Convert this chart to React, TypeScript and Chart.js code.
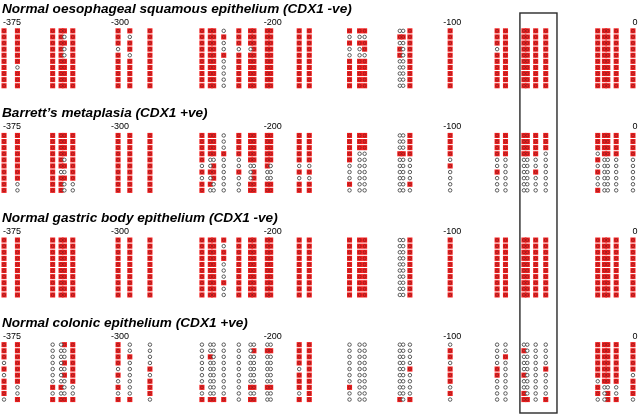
import { useEffect, useRef } from 'react';
import { Chart, registerables } from 'chart.js';
Chart.register(...registerables);

// CpG positions (bp relative to transcription start), left to right
const CPG_BP = [
  -375, -367, -346, -341, -339, -334, -307, -300, -288, -257, -252, -250, -244,
  -235, -228, -226, -218, -216, -199, -193, -169, -163, -160, -139, -137, -133,
  -109, -81, -76, -65, -63, -58, -52, -21, -17, -15, -10, 0,
];

const PANEL_TITLES = [
  'Normal oesophageal squamous epithelium (CDX1 -ve)',
  'Barrett\u2019s metaplasia (CDX1 +ve)',
  'Normal gastric body epithelium (CDX1 -ve)',
  'Normal colonic epithelium (CDX1 +ve)',
];

const TICK_LABELS = ['-375', '-300', '-200', '-100', '0'];
const TICK_CPG_INDEX = [0, 6, 17, 26, 37];

// highlighted region (bp)
const HIGHLIGHT_REGION = [-67.4, -45.3];

// Methylation per CpG column: 10 clones top -> bottom, '1' methylated, '0' unmethylated
const OESOPHAGEAL = [
  '1111111111', '1111110111', '1111111111', '1111111111', '1010011111', '1111111111',
  '1110111111', '1011011111', '1111111111', '1111111111', '1111111111', '1111111111',
  '0100100000', '1110111111', '1110111111', '1111111111', '1111111111', '1111111111',
  '1111111111', '1111111111', '1010011111', '1010011111', '1011011111', '0101100000',
  '0100000000', '1111111111', '1111111111', '1110111111', '1111111111', '1111111111',
  '1111111111', '1111111111', '1111111111', '1111111111', '1111111111', '1111111111',
  '1111111111', '1111111111',
];

const BARRETTS = [
  '1111111111', '1111111100', '1111111111', '1111110111', '1111010100', '1111111100',
  '1111111111', '1111111111', '1111111111', '1111101011', '1111001010', '1111011100',
  '0001000000', '1111001000', '1111100011', '1111101111', '1111110011', '1111100011',
  '1111101011', '1111101011', '1111100010', '1110000000', '1110000000', '0001000000',
  '0001000000', '1111000010', '1111010000', '1111001000', '1111000000', '1111000000',
  '1111000000', '1111001000', '1110000000', '1110101001', '1111000000', '1111000000',
  '1111000000', '1111000000',
];

const GASTRIC = [
  '1111111111', '1111111111', '1111111111', '1111111111', '1111111111', '1111111111',
  '1111111111', '1111111111', '1111111111', '1111111111', '1111111111', '1111111111',
  '1011000100', '1111111111', '1111111111', '1111111111', '1111111111', '1111111111',
  '1111111111', '1111111111', '1111111111', '1111111111', '1111111111', '0000000000',
  '0000000000', '1111111111', '1111111111', '1111111111', '1111111111', '1111111111',
  '1111111111', '1111111111', '1111111111', '1111111111', '1111111111', '1111111111',
  '1111111111', '1111111111',
];

const COLONIC = [
  '1110101110', '1111111001', '0000000101', '0000000101', '1001010001', '1111111001',
  '1111010101', '0010000001', '0000101110', '0000000101', '0010000001', '0000000001',
  '0000000001', '0000000000', '0000000101', '0100000101', '0100000100', '0100000100',
  '1111011101', '1111111111', '0000000100', '0000000000', '0000000000', '0000000001',
  '0000000000', '0000100001', '0110111010', '0000110000', '0010000000', '0100010011',
  '0000000001', '0000000000', '0000100001', '1111110110', '1111111000', '1111111011',
  '1111111001', '1111101110',
];

const PANELS = [OESOPHAGEAL, BARRETTS, GASTRIC, COLONIC];

// layout (pixels on the row axis)
const W = 640;
const H = 415;
const PANEL_TOP = [27.8, 132.4, 237.0, 341.6];
const ROW_PITCH = 6.1;
const BOX_TOP = 13;
const BOX_BOTTOM = 413;
const X_MIN = -377.4;
const X_MAX = 4.2;

const FONT_FAMILY = '"Liberation Sans", Arial, Helvetica, sans-serif';

export default function App() {
  const ref = useRef<HTMLCanvasElement>(null);

  useEffect(() => {
    document.body.style.margin = '0';
    const meth: { x: number; y: number }[] = [];
    const unmeth: { x: number; y: number }[] = [];
    PANELS.forEach((panel, p) => {
      panel.forEach((col, i) => {
        for (let r = 0; r < col.length; r++) {
          const pt = { x: CPG_BP[i], y: PANEL_TOP[p] + (r + 0.5) * ROW_PITCH };
          if (col[r] === '1') meth.push(pt);
          else unmeth.push(pt);
        }
      });
    });

    const annotations = {
      id: 'annotations',
      afterDatasetsDraw(chart: any) {
        const { ctx, scales } = chart;
        const xs = scales.x;
        const ys = scales.y;
        ctx.save();
        // highlight box
        const bx0 = xs.getPixelForValue(HIGHLIGHT_REGION[0]);
        const bx1 = xs.getPixelForValue(HIGHLIGHT_REGION[1]);
        const by0 = ys.getPixelForValue(BOX_TOP);
        const by1 = ys.getPixelForValue(BOX_BOTTOM);
        ctx.strokeStyle = '#2a2a2a';
        ctx.lineWidth = 1.4;
        ctx.strokeRect(bx0, by0, bx1 - bx0, by1 - by0);

        ctx.fillStyle = '#000';
        ctx.textBaseline = 'alphabetic';
        PANEL_TITLES.forEach((t, p) => {
          const top = ys.getPixelForValue(PANEL_TOP[p]);
          ctx.font = `italic bold 13.6px ${FONT_FAMILY}`;
          ctx.textAlign = 'left';
          ctx.fillText(t, 2, top - 15);
          ctx.font = `9px ${FONT_FAMILY}`;
          TICK_LABELS.forEach((lab, k) => {
            const px = xs.getPixelForValue(CPG_BP[TICK_CPG_INDEX[k]]);
            if (k === 0) {
              ctx.textAlign = 'left';
              ctx.fillText(lab, px - 1, top - 3);
            } else {
              ctx.textAlign = 'center';
              ctx.fillText(lab, px + 2, top - 3);
            }
          });
        });
        ctx.restore();
      },
    };

    const chart = new Chart(ref.current!, {
      type: 'scatter',
      data: {
        datasets: [
          {
            label: 'Unmethylated',
            data: unmeth,
            pointStyle: 'circle',
            pointRadius: 1.75,
            backgroundColor: '#ffffff',
            borderColor: '#4a4a4a',
            borderWidth: 0.9,
            order: 0,
          },
          {
            label: 'Methylated CpG',
            data: meth,
            pointStyle: 'circle',
            pointRadius: 1.5,
            backgroundColor: 'rgba(0,0,0,0)',
            borderColor: 'rgba(90,30,30,0.7)',
            borderWidth: 0.7,
            order: 1,
          },
          {
            label: 'Methylated',
            data: meth,
            pointStyle: 'rect',
            pointRadius: 3.6,
            backgroundColor: '#f41e1e',
            borderWidth: 0,
            order: 2,
          },
        ],
      },
      options: {
        animation: false,
        responsive: false,
        devicePixelRatio: 1,
        events: [],
        layout: { padding: 0, autoPadding: false },
        scales: {
          x: { type: 'linear', min: X_MIN, max: X_MAX, display: false },
          y: { type: 'linear', min: 0, max: H, reverse: true, display: false },
        },
        plugins: {
          legend: { display: false },
          tooltip: { enabled: false },
          title: { display: false },
        },
      },
      plugins: [annotations],
    });
    return () => chart.destroy();
  }, []);

  return (
    <div style={{ width: W, height: H, background: '#fff' }}>
      <canvas ref={ref} width={W} height={H} style={{ display: 'block', width: W, height: H }} />
    </div>
  );
}
